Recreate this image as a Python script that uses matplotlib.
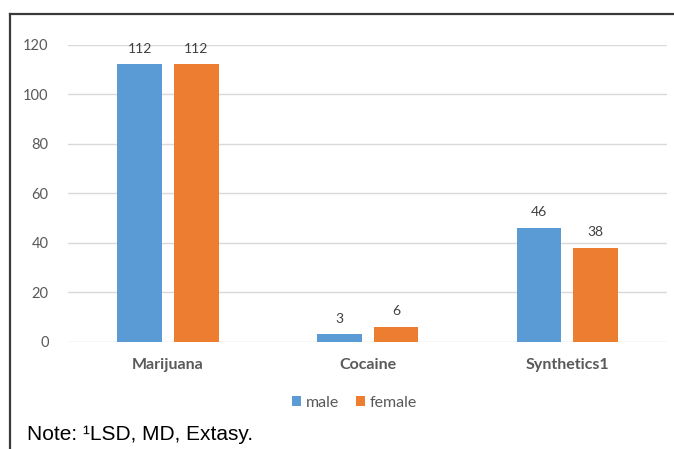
import numpy as np
import matplotlib.pyplot as plt
from matplotlib.lines import Line2D

# drug use counts by sex
drugs = ['Marijuana', 'Cocaine', 'Synthetics1']
male = [112, 3, 46]
female = [112, 6, 38]
yticks = [0, 20, 40, 60, 80, 100, 120]

blue = '#5B9BD5'
orange = '#ED7D31'
grey = '#595959'

plt.rcParams['font.family'] = ['Lato', 'DejaVu Sans']

fig = plt.figure(figsize=(6.74, 4.49), dpi=100)
ax = fig.add_axes([0.101, 0.239, 0.889, 0.6615])

x = np.arange(len(drugs))
w = 0.223
off = 0.142
b1 = ax.bar(x - off, male, w, color=blue, label='male', zorder=3)
b2 = ax.bar(x + off, female, w, color=orange, label='female', zorder=3)

for bars in (b1, b2):
    for b in bars:
        ax.annotate(str(int(b.get_height())),
                    (b.get_x() + b.get_width() / 2, b.get_height()),
                    xytext=(0, 7), textcoords='offset points',
                    ha='center', va='bottom', fontsize=10, color='#404040')

ax.set_xlim(-0.5, 2.5)
ax.set_ylim(0, 120)
ax.set_yticks(yticks)
ax.set_xticks(x)
ax.set_xticklabels(drugs, fontweight='bold', fontsize=11.5, color=grey)
ax.tick_params(axis='y', labelsize=10.5, labelcolor=grey, length=0, pad=14)
ax.tick_params(axis='x', length=0, pad=12)
ax.grid(axis='y', color='#D9D9D9', linewidth=1, zorder=0)
for s in ax.spines.values():
    s.set_visible(False)

ax.legend(loc='center', bbox_to_anchor=(0.478, -0.205), ncol=2, frameon=False,
          fontsize=11.5, labelcolor=grey, handlelength=0.55, handleheight=0.55,
          handletextpad=0.3, columnspacing=1.1)

# outer frame: top and left edges only
fig.add_artist(Line2D([10 / 674, 1], [1 - 14 / 449, 1 - 14 / 449],
                      transform=fig.transFigure, color='#3A3A3A', linewidth=1.6))
fig.add_artist(Line2D([10 / 674, 10 / 674], [0, 1 - 14 / 449],
                      transform=fig.transFigure, color='#3A3A3A', linewidth=1.6))

fig.text(27 / 674, 1 - 435 / 449, 'Note: \u00b9LSD, MD, Extasy.',
         family='Liberation Sans', fontsize=15, va='center', ha='left', color='black')

fig.savefig('out.png', dpi=100)
